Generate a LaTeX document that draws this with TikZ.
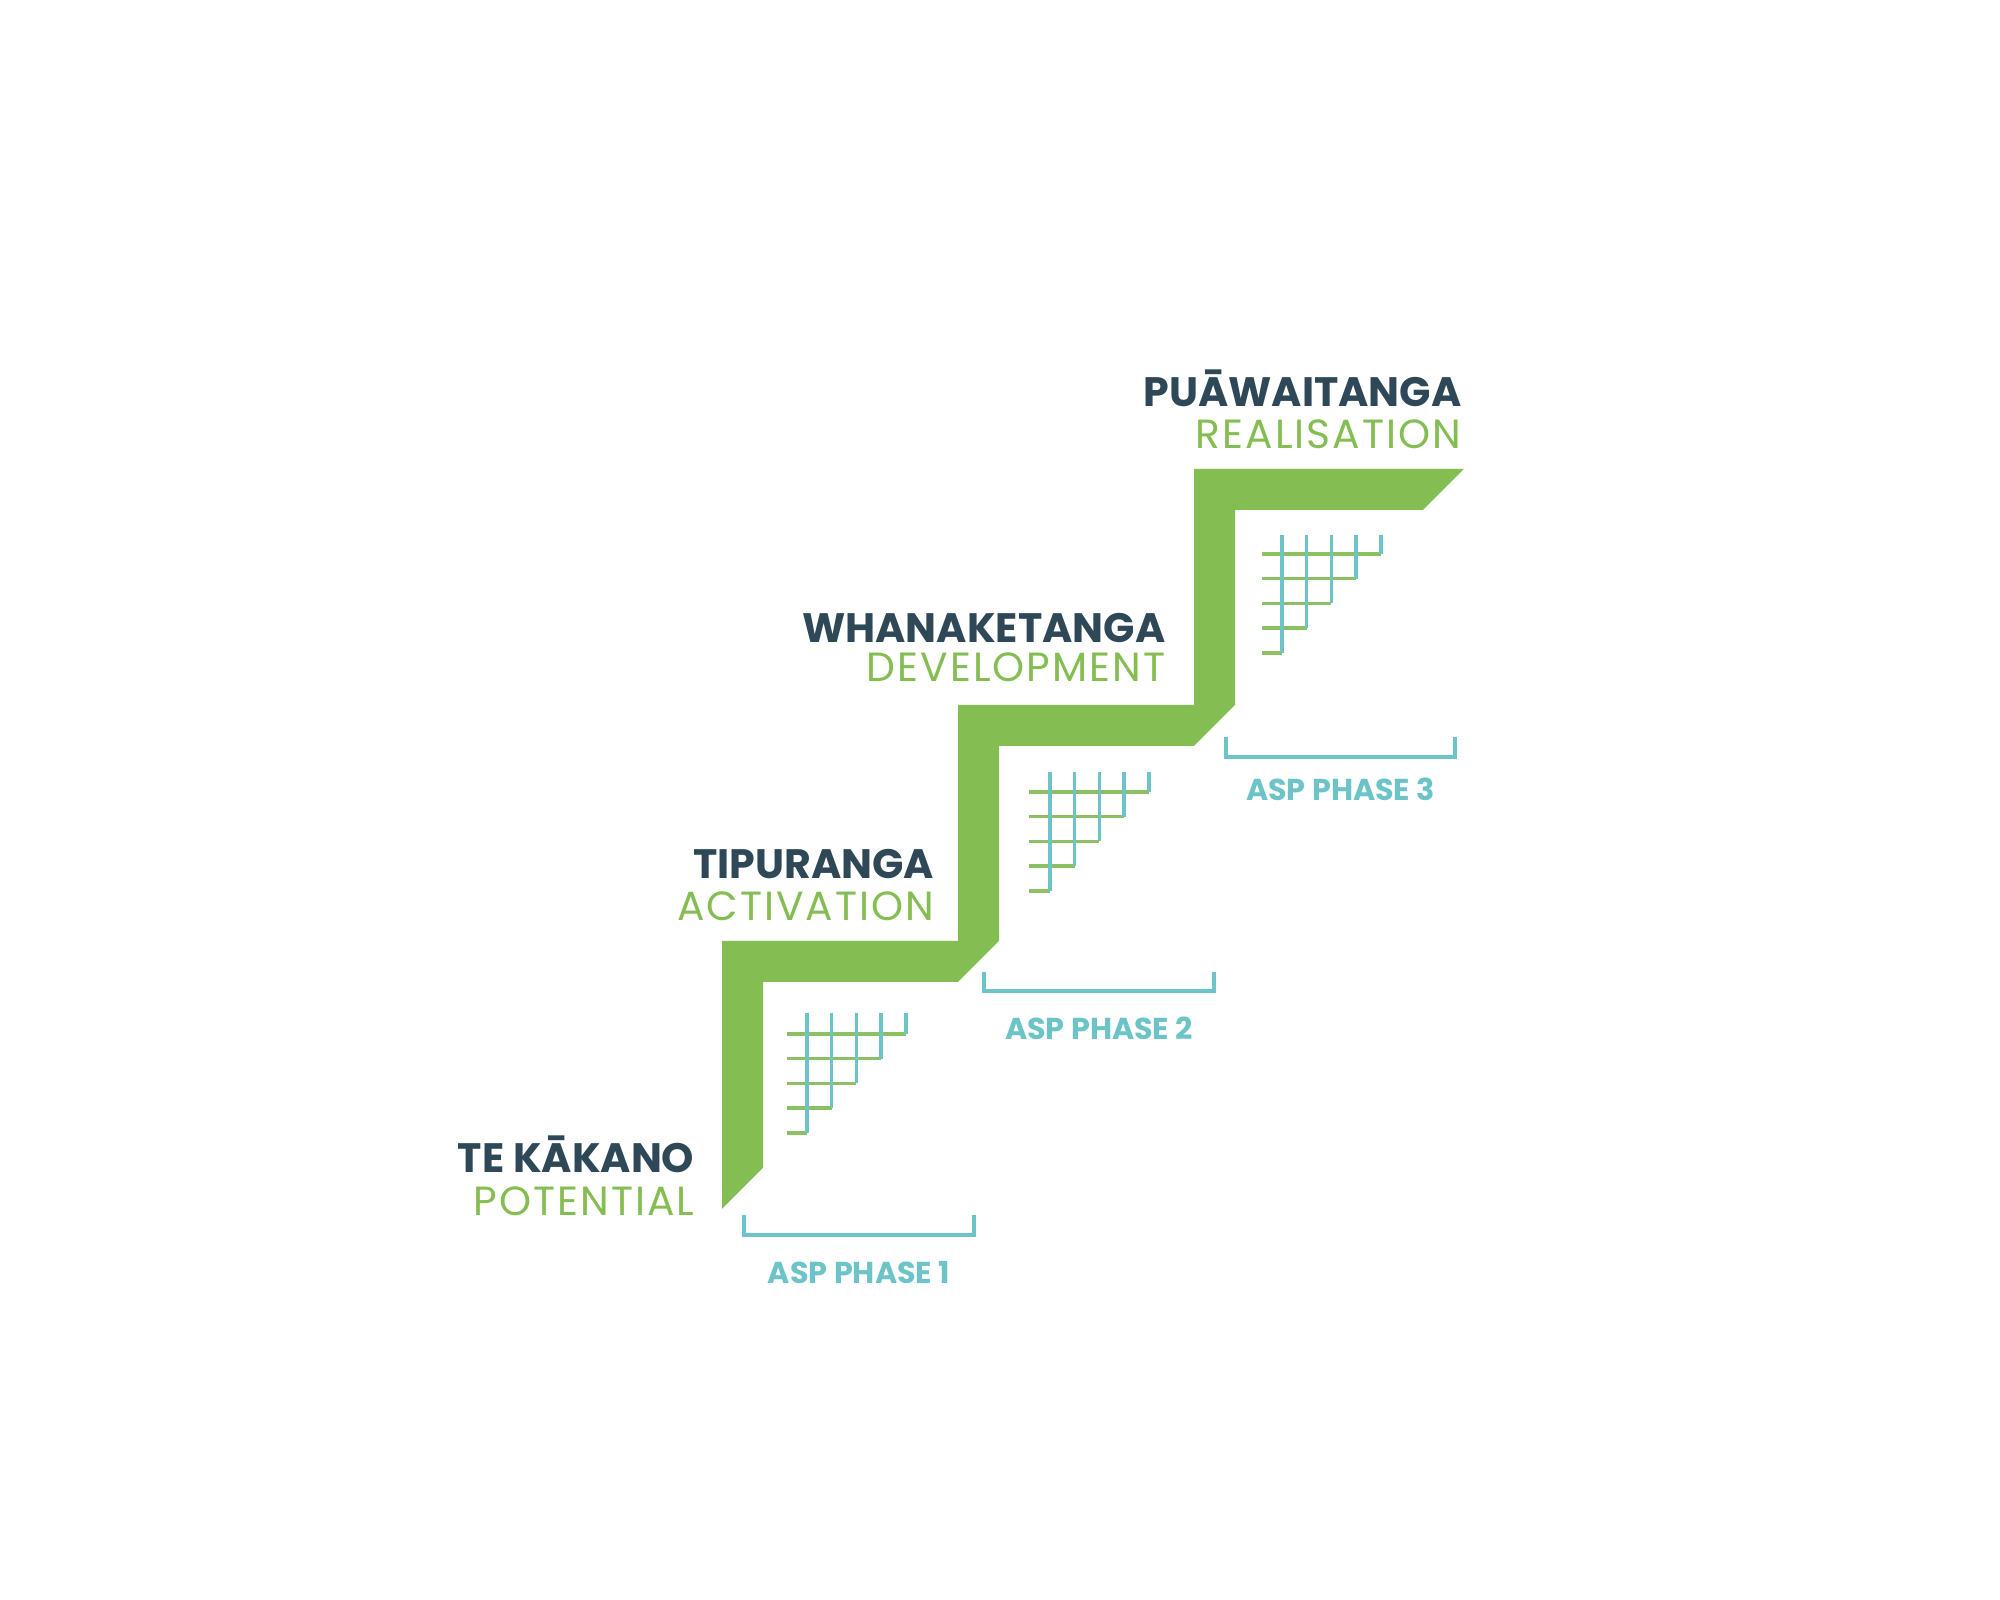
\documentclass[tikz,border=0pt]{standalone}
\usepackage{fontspec}
\setmainfont{Poppins}
\newfontfamily\widefont{Poppins}[LetterSpace=5]
\definecolor{stairgreen}{HTML}{84BE52}
\definecolor{slate}{HTML}{2E4858}
\definecolor{aqua}{HTML}{6CC4C8}
\definecolor{gridgreen}{HTML}{8CC163}
\tikzset{
  maori/.style={font=\bfseries\fontsize{11.7}{13}\selectfont, text=slate, inner sep=0pt},
  english/.style={font=\widefont\fontsize{11.6}{13}\selectfont, text=stairgreen, inner sep=0pt},
  phase/.style={font=\bfseries\fontsize{8.6}{10}\selectfont, text=aqua, inner sep=0pt},
  bracket/.style={draw=aqua, line width=0.95pt},
  hline/.style={draw=gridgreen, line width=1pt},
  vline/.style={draw=aqua, line width=1pt}
}
\begin{document}
\begin{tikzpicture}
	\useasboundingbox (0,0) rectangle (20,16);

	% the stairs
	\fill[stairgreen] (7.22,3.91) -- (7.22,6.59) -- (9.58,6.59) -- (9.58,8.95)
		-- (11.94,8.95) -- (11.94,11.31) -- (14.64,11.31) -- (14.23,10.90)
		-- (12.35,10.90) -- (12.35,8.95) -- (11.94,8.54) -- (9.99,8.54)
		-- (9.99,6.59) -- (9.58,6.18) -- (7.63,6.18) -- (7.63,4.32) -- cycle;

	% grids under each step: corner x/y, left end, first column, top, first row
	\foreach \cx/\cy/\gl/\gv/\gt/\gh in {7.22/6.59/0.65/0.85/0.72/0.93,
		9.58/8.95/0.71/0.92/0.67/0.87, 11.94/11.31/0.68/0.88/0.66/0.85} {
		\foreach \i in {0,...,4} {
			\draw[hline] (\cx+\gl,\cy-\gh-\i*0.247) -- (\cx+\gv+4*0.247-\i*0.247,\cy-\gh-\i*0.247);
		}
		\foreach \k in {0,...,4} {
			\draw[vline] (\cx+\gv+\k*0.247,\cy-\gt) -- (\cx+\gv+\k*0.247,\cy-\gh-4*0.247+\k*0.247);
		}
	}

	% phase brackets
	\foreach \cx/\cy/\bl/\br/\bt/\bb/\ty/\n in {7.22/6.59/0.22/2.52/2.74/2.94/3.32/1,
		9.58/8.95/0.26/2.56/2.67/2.86/3.23/2, 11.94/11.31/0.32/2.61/2.68/2.88/3.20/3} {
		\draw[bracket] (\cx+\bl,\cy-\bt) |- (\cx+\br,\cy-\bb) -- (\cx+\br,\cy-\bt);
		\node[phase] (phase\n) at (\cx+\bl/2+\br/2,\cy-\ty) {ASP PHASE \n};
	}

	% stage names
	\node[maori, anchor=base east] (tekakano) at (6.95,4.27) {TE KĀKANO};
	\node[english, anchor=base east] (potential) at (6.95,3.84) {POTENTIAL};
	\node[maori, anchor=base east] (tipuranga) at (9.35,7.21) {TIPURANGA};
	\node[english, anchor=base east] (activation) at (9.35,6.79) {ACTIVATION};
	\node[maori, anchor=base east] (whanaketanga) at (11.66,9.57) {WHANAKETANGA};
	\node[english, anchor=base east] (development) at (11.66,9.18) {DEVELOPMENT};
	\node[maori, anchor=base east] (puawaitanga) at (14.62,11.93) {PUĀWAITANGA};
	\node[english, anchor=base east] (realisation) at (14.62,11.51) {REALISATION};

\end{tikzpicture}
\end{document}
